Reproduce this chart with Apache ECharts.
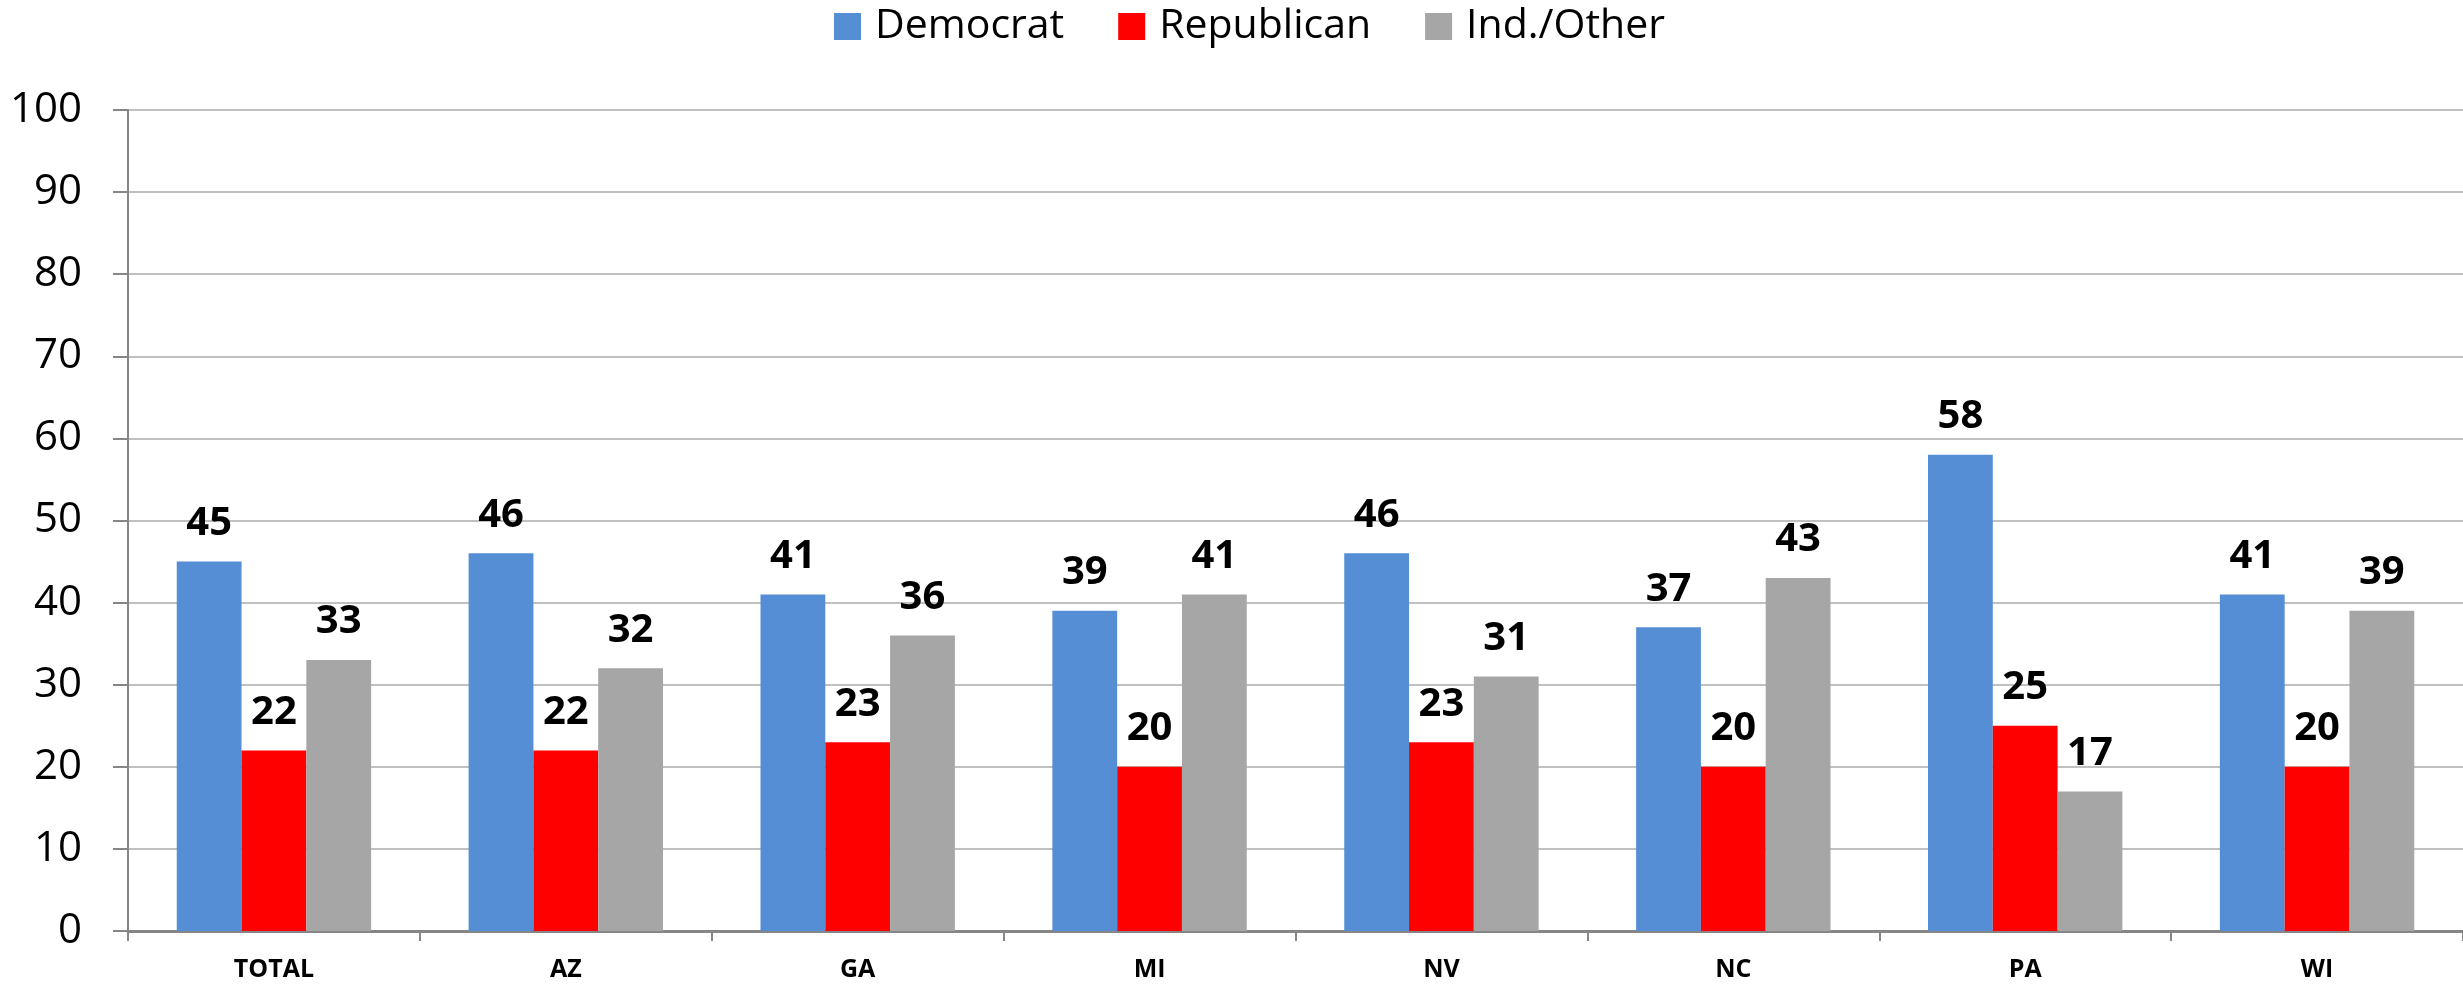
<!DOCTYPE html>
<html>
<head>
<meta charset="utf-8">
<script src="https://cdn.jsdelivr.net/npm/echarts@6/dist/echarts.min.js"></script>
<style>
html,body{margin:0;padding:0;background:#fff;}
#chart{width:2463px;height:991px;}
</style>
</head>
<body>
<div id="chart"></div>
<script>
const categories = ['TOTAL','AZ','GA','MI','NV','NC','PA','WI'];
const democrat   = [45,46,41,39,46,37,58,41];
const republican = [22,22,23,20,23,20,25,20];
const independent= [33,32,36,41,31,43,17,39];
const seriesNames = ['Democrat','Republican','Ind./Other'];
const yTicks = {min:0, max:100, interval:10};

const FONT = '"Open Sans", sans-serif';
const chart = echarts.init(document.getElementById('chart'), null, {renderer:'canvas'});
const label = {
  show:true, position:'top', distance:18,
  fontFamily:FONT, fontSize:40, fontWeight:'bold', color:'#000'
};
const colors = ['#558ED5','#FF0000','#A6A6A6'];
const data = [democrat, republican, independent];
chart.setOption({
  animation:false,
  backgroundColor:'#fff',
  legend:{
    left:829, top:1,
    itemWidth:27, itemHeight:27, itemGap:54,
    icon:'rect',
    textStyle:{fontFamily:FONT, fontSize:41, color:'#000', padding:[0,0,0,9]},
    data:seriesNames
  },
  grid:{left:128, right:0, top:110, bottom:60, containLabel:false},
  xAxis:{
    type:'category', data:categories,
    axisLine:{lineStyle:{color:'#868686', width:3}},
    axisTick:{show:true, length:10, lineStyle:{color:'#868686', width:2}},
    axisLabel:{fontFamily:FONT, fontSize:25, fontWeight:'bold', color:'#000', margin:26}
  },
  yAxis:{
    type:'value', min:yTicks.min, max:yTicks.max, interval:yTicks.interval,
    axisLine:{show:true, lineStyle:{color:'#868686', width:2}},
    axisTick:{show:true, length:15, lineStyle:{color:'#868686', width:2}},
    axisLabel:{fontFamily:FONT, fontSize:42, color:'#000', margin:46},
    splitLine:{lineStyle:{color:'#C0C0C0', width:2}}
  },
  series: seriesNames.map((n,i)=>({
    name:n, type:'bar', data:data[i],
    barGap:'0%', barCategoryGap:'33.4%',
    itemStyle:{color:colors[i]},
    label:label
  }))
});
</script>
</body>
</html>
